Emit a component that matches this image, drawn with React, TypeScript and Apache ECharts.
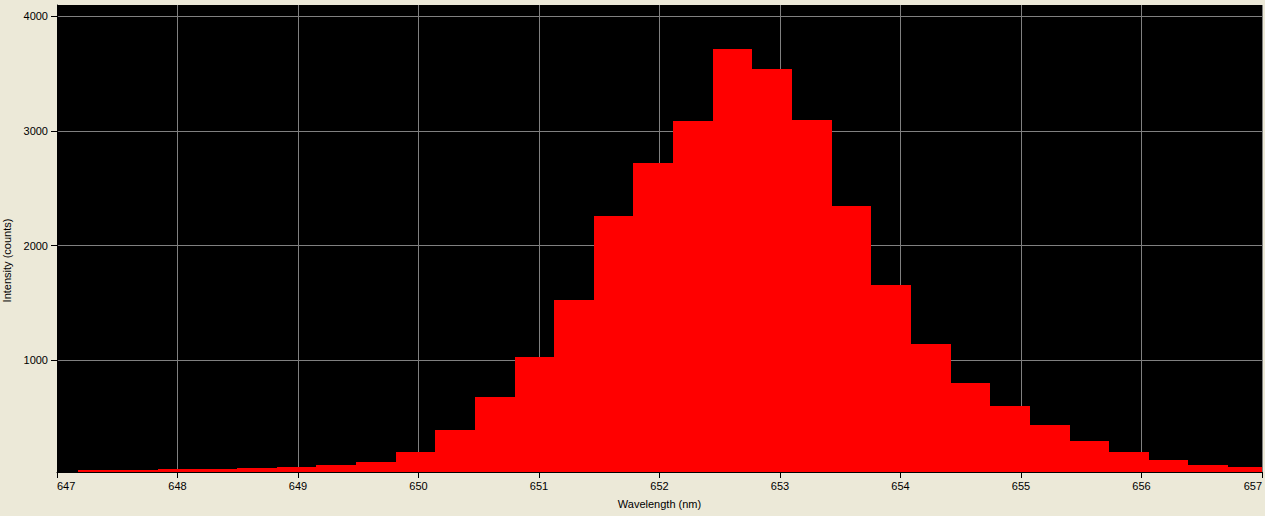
import React, { useEffect, useRef } from "react";
import * as echarts from "echarts";

// Left edge of each histogram bin (nm)
const binStart = [
  647.178, 647.507, 647.836, 648.165, 648.494, 648.823, 649.152, 649.481,
  649.81, 650.139, 650.468, 650.797, 651.126, 651.455, 651.784, 652.113,
  652.442, 652.771, 653.1, 653.429, 653.758, 654.087, 654.416, 654.745,
  655.074, 655.403, 655.732, 656.061, 656.39, 656.719,
];
const BIN_WIDTH = 0.329;
// Intensity (counts) per bin
const intensity = [
  46, 46, 54, 54, 63, 72, 89, 115, 202, 394, 681, 1030, 1526, 2258, 2720,
  3085, 3713, 3538, 3094, 2345, 1657, 1143, 803, 603, 437, 298, 202, 133, 89,
  72,
];
const yTickValues = [1000, 2000, 3000, 4000];
const X_MIN = 647;
const X_MAX = 657;
const Y_MIN = 28;
const Y_MAX = 4096;

const FONT = "Liberation Sans";

export default function App() {
  const ref = useRef<HTMLDivElement>(null);
  useEffect(() => {
    if (!ref.current) return;
    const chart = echarts.init(ref.current, null, { renderer: "svg" });
    const data = binStart.map((s, i) => [s, s + BIN_WIDTH, intensity[i]]);
    chart.setOption({
      animation: false,
      backgroundColor: "#ECE9D8",
      grid: {
        left: 57,
        right: 3,
        top: 5,
        bottom: 44,
        show: true,
        backgroundColor: "#000000",
        borderWidth: 0,
        containLabel: false,
        outerBoundsMode: "none",
      },
      xAxis: {
        type: "value",
        min: X_MIN,
        max: X_MAX,
        interval: 1,
        name: "Wavelength (nm)",
        nameLocation: "middle",
        nameGap: 26,
        nameTextStyle: { color: "#000", fontSize: 11, fontFamily: FONT },
        axisLine: { show: true, lineStyle: { color: "#000", width: 1 } },
        axisTick: { show: true, length: 6, lineStyle: { color: "#000" } },
        axisLabel: {
          color: "#000",
          fontSize: 11,
          fontFamily: FONT,
          margin: 8,
          showMinLabel: true,
          showMaxLabel: true,
          alignMinLabel: "left",
          alignMaxLabel: "right",
          formatter: (v: number) => String(v),
        },
        splitLine: { show: true, lineStyle: { color: "#808080", width: 1 } },
      },
      yAxis: {
        type: "value",
        min: Y_MIN,
        max: Y_MAX,
        name: "Intensity (counts)",
        nameLocation: "middle",
        nameGap: 43,
        nameTextStyle: {
          color: "#000",
          fontSize: 11,
          fontFamily: FONT,
          padding: [0, 44, 0, 0],
        },
        axisLine: { show: true, lineStyle: { color: "#000", width: 1 } },
        axisTick: {
          show: true,
          length: 6,
          lineStyle: { color: "#000" },
          customValues: yTickValues,
        },
        axisLabel: {
          color: "#000",
          fontSize: 11,
          fontFamily: FONT,
          margin: 9,
          customValues: yTickValues,
          formatter: (v: number) => String(v),
        },
        splitLine: { show: true, lineStyle: { color: "#808080", width: 1 } },
      },
      series: [
        {
          type: "custom",
          data,
          encode: { x: [0, 1], y: 2 },
          renderItem: (params: any, api: any) => {
            const p0 = api.coord([api.value(0), api.value(2)]);
            const p1 = api.coord([api.value(1), Y_MIN]);
            const cs = params.coordSys;
            const x0 = Math.round(p0[0]);
            const x1 = Math.round(p1[0]);
            const rect = echarts.graphic.clipRectByRect(
              {
                x: x0,
                y: p0[1],
                width: x1 - x0,
                height: p1[1] - p0[1],
              },
              { x: cs.x, y: cs.y, width: cs.width, height: cs.height }
            );
            if (!rect) return null;
            return {
              type: "rect",
              shape: rect,
              style: { fill: "#FF0000" },
            };
          },
        },
      ],
    });
    return () => chart.dispose();
  }, []);
  return (
    <div
      ref={ref}
      style={{ position: "absolute", left: 0, top: 0, width: 1265, height: 516 }}
    />
  );
}
